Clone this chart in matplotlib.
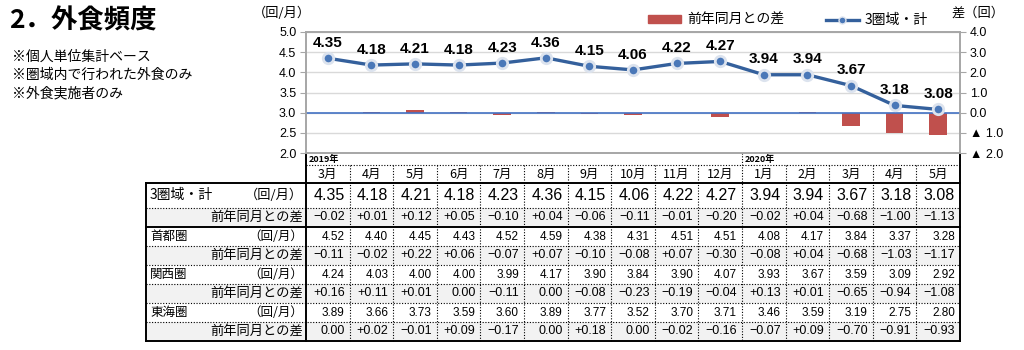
import matplotlib
matplotlib.use("Agg")
import matplotlib.pyplot as plt
from matplotlib.patches import Patch, Rectangle
from matplotlib.lines import Line2D

plt.rcParams["font.family"] = ["Noto Sans CJK JP", "DejaVu Sans"]
NUM_FONT = ["Liberation Sans", "DejaVu Sans"]

# --- data ---
months = ["3月", "4月", "5月", "6月", "7月", "8月", "9月", "10月", "11月", "12月",
          "1月", "2月", "3月", "4月", "5月"]
years = {0: "2019年", 10: "2020年"}

total = [4.35, 4.18, 4.21, 4.18, 4.23, 4.36, 4.15, 4.06, 4.22, 4.27, 3.94, 3.94, 3.67, 3.18, 3.08]
total_diff = [-0.02, 0.01, 0.12, 0.05, -0.10, 0.04, -0.06, -0.11, -0.01, -0.20, -0.02, 0.04, -0.68, -1.00, -1.13]
shutoken = [4.52, 4.40, 4.45, 4.43, 4.52, 4.59, 4.38, 4.31, 4.51, 4.51, 4.08, 4.17, 3.84, 3.37, 3.28]
shutoken_diff = [-0.11, -0.02, 0.22, 0.06, -0.07, 0.07, -0.10, -0.08, 0.07, -0.30, -0.08, 0.04, -0.68, -1.03, -1.17]
kansai = [4.24, 4.03, 4.00, 4.00, 3.99, 4.17, 3.90, 3.84, 3.90, 4.07, 3.93, 3.67, 3.59, 3.09, 2.92]
kansai_diff = [0.16, 0.11, 0.01, 0.00, -0.11, 0.00, -0.08, -0.23, -0.19, -0.04, 0.13, 0.01, -0.65, -0.94, -1.08]
tokai = [3.89, 3.66, 3.73, 3.59, 3.60, 3.89, 3.77, 3.52, 3.70, 3.71, 3.46, 3.59, 3.19, 2.75, 2.80]
tokai_diff = [0.00, 0.02, -0.01, 0.09, -0.17, 0.00, 0.18, 0.00, -0.02, -0.16, -0.07, 0.09, -0.70, -0.91, -0.93]

region_names = ["3圏域・計", "首都圏", "関西圏", "東海圏"]
region_vals = [total, shutoken, kansai, tokai]
region_diffs = [total_diff, shutoken_diff, kansai_diff, tokai_diff]

notes = ["※個人単位集計ベース", "※圏域内で行われた外食のみ", "※外食実施者のみ"]

LINE_C = "#34609C"
BAR_C = "#C0504D"
AXIS_C = "#A6A6A6"

W, H = 1024, 350
fig = plt.figure(figsize=(W / 100, H / 100), dpi=100)

# overlay in pixel units for title / table
tax = fig.add_axes([0, 0, 1, 1])
tax.set_xlim(0, W)
tax.set_ylim(H, 0)
tax.axis("off")

# table geometry (pixels)
TL, LC, TR = 146, 306, 960
Y_YEAR, Y_MON, Y_BODY = 153, 165, 183
col_w = (TR - LC) / len(months)
row_h = [25] + [19] * 7
y_edges = [Y_BODY]
for h in row_h:
    y_edges.append(y_edges[-1] + h)

# chart axes aligned to table columns
ax = fig.add_axes([LC / W, 1 - Y_YEAR / H, (TR - LC) / W, (Y_YEAR - 32) / H])
ax2 = ax.twinx()
x = list(range(len(months)))

ax2.bar(x, total_diff, width=0.4, color=BAR_C, zorder=2)
ax2.axhline(0, color="#4472C4", lw=1.2, zorder=3)
ax2.set_ylim(-2, 4)
ax2.set_yticks([-2, -1, 0, 1, 2, 3, 4])
ax2.set_yticklabels(["▲ 2.0", "▲ 1.0", "0.0", "1.0", "2.0", "3.0", "4.0"], family=NUM_FONT, fontsize=9)
ax2.grid(axis="y", color="#D9D9D9", lw=1)
ax2.set_axisbelow(True)

ax.set_zorder(ax2.get_zorder() + 1)
ax.patch.set_visible(False)
ax.plot(x, total, color=LINE_C, lw=2.4, marker="o", ms=7.5, mfc="#4A78B8", mec="#DCE3EE", mew=2, zorder=4)
for i, v in enumerate(total):
    ax.annotate(f"{v:.2f}", (i, v), xytext=(0, 11), textcoords="offset points",
                ha="center", va="center", fontsize=11, fontweight="bold", family=NUM_FONT)
ax.set_ylim(2.0, 5.0)
ax.set_xlim(-0.5, len(months) - 0.5)
ax.set_yticks([2.0, 2.5, 3.0, 3.5, 4.0, 4.5, 5.0])
ax.set_yticklabels([f"{t:.1f}" for t in ax.get_yticks()], family=NUM_FONT, fontsize=9)
ax.set_xticks([])
for a in (ax, ax2):
    for s in a.spines.values():
        s.set_color(AXIS_C)
        s.set_linewidth(1.2)
    a.tick_params(axis="y", length=4, color=AXIS_C, pad=3)

# legend
handles = [Patch(color=BAR_C, label="前年同月との差"),
           Line2D([], [], color=LINE_C, lw=2.4, marker="o", ms=5, mfc="#4A78B8", mec="#DCE3EE",
                  label="3圏域・計")]
fig.legend(handles=handles, loc="center", bbox_to_anchor=(788 / W, 1 - 20 / H), ncol=2,
           frameon=False, fontsize=10, handlelength=2.4, handleheight=0.5, columnspacing=3.0,
           handletextpad=0.4)

# title, notes, axis units
tax.text(9, 21, "2．外食頻度", fontsize=19, fontweight="bold", va="center", ha="left")
for k, n in enumerate(notes):
    tax.text(12, 57 + 18 * k, n, fontsize=10, va="center", ha="left")
tax.text(282, 13, "（回/月）", fontsize=9.5, va="center", ha="center")
tax.text(978, 13, "差（回）", fontsize=9.5, va="center", ha="center")

# --- table ---
DOT = dict(color="black", lw=0.8, linestyle=(0, (1, 1.5)))
SOLID = dict(color="black", lw=1.4)

for r in range(8):
    if r % 2 == 1:
        tax.add_patch(Rectangle((TL, y_edges[r]), TR - TL, row_h[r], color="#F2F2F2", lw=0))

# header
for j, m in enumerate(months):
    cx = LC + (j + 0.5) * col_w
    tax.text(cx, (Y_MON + Y_BODY) / 2, m, fontsize=9, ha="center", va="center")
for j, y in years.items():
    tax.text(LC + j * col_w + 3, (Y_YEAR + Y_MON) / 2, y, fontsize=6.5, ha="left", va="center",
             fontweight="bold")

# body
for g in range(4):
    rv, rd = 2 * g, 2 * g + 1
    yv = (y_edges[rv] + y_edges[rv + 1]) / 2
    yd = (y_edges[rd] + y_edges[rd + 1]) / 2
    big = g == 0
    tax.text(TL + 4, yv, region_names[g], fontsize=10 if big else 9, ha="left", va="center")
    tax.text(LC - 3, yv, "（回/月）", fontsize=9.5 if big else 9, ha="right", va="center")
    tax.text(LC - 3, yd, "前年同月との差", fontsize=9.5, ha="right", va="center")
    for j in range(len(months)):
        rx = LC + (j + 1) * col_w - 5
        v = region_vals[g][j]
        tax.text(rx, yv, f"{v:.2f}", fontsize=11.5 if big else 8.5, ha="right", va="center",
                 family=NUM_FONT)
        d = region_diffs[g][j]
        s = f"+{d:.2f}" if d > 0 else (f"−{abs(d):.2f}" if d < 0 else "0.00")
        tax.text(rx, yd, s, fontsize=9, ha="right", va="center", family=NUM_FONT)

# grid lines
tax.plot([LC, TR], [Y_MON, Y_MON], **DOT)
for j in range(1, len(months)):
    xx = LC + j * col_w
    top = Y_YEAR if j in years else Y_MON
    tax.plot([xx, xx], [top, y_edges[-1]], **DOT)
for r in range(1, 8):
    if r == 2:
        tax.plot([TL, TR], [y_edges[r]] * 2, **SOLID)
    else:
        tax.plot([TL, TR], [y_edges[r]] * 2, **DOT)
tax.plot([TL, TR], [Y_BODY, Y_BODY], **SOLID)
tax.plot([TL, TR], [y_edges[-1]] * 2, **SOLID)
tax.plot([TL, TL], [Y_BODY, y_edges[-1]], **SOLID)
tax.plot([LC, LC], [Y_YEAR, y_edges[-1]], **SOLID)
tax.plot([TR, TR], [Y_YEAR, y_edges[-1]], **SOLID)

fig.savefig("out.png", dpi=100)
